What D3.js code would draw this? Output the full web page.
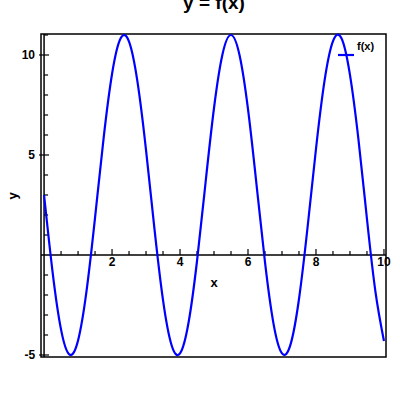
<!DOCTYPE html>
<html lang="en">
<head>
<meta charset="utf-8">
<script src="https://d3js.org/d3.v7.min.js"></script>
<style>
  body { margin: 0; background: #fff; }
  text { font-family: "Liberation Sans", Arial, sans-serif; font-weight: bold; fill: #000; }
</style>
</head>
<body>
<div id="canvas"></div>
<script>
// values
var xValues = [0, 0.25, 0.5, 0.75, 1, 1.25, 1.5, 1.75, 2, 2.25, 2.5, 2.75, 3, 3.25, 3.5, 3.75,
               4, 4.25, 4.5, 4.75, 5, 5.25, 5.5, 5.75, 6, 6.25, 6.5, 6.75, 7, 7.25, 7.5, 7.75,
               8, 8.25, 8.5, 8.75, 9, 9.25, 9.5, 9.75, 10];
var yValues = [3.0, -0.84, -3.73, -4.98, -4.27, -1.79, 1.87, 5.81, 9.05, 10.82, 10.67, 8.64,
               5.24, 1.28, -2.26, -4.50, -4.92, -3.39, -0.30, 3.60, 7.35, 10.04, 11.0, 10.0,
               7.29, 3.53, -0.36, -3.43, -4.92, -4.48, -2.20, 1.35, 5.30, 8.69, 10.69, 10.84,
               9.01, 5.77, 1.80, -1.84, -4.30];
var xMajorTicks = [2, 4, 6, 8, 10];
var yMajorTicks = [-5, 5, 10];
var xDomain = [-0.09, 10.06];
var yDomain = [-5.1, 11.05];
var seriesName = "f(x)";
var title = "y = f(x)";

var points = xValues.map(function(x, i) { return {x: x, y: yValues[i]}; });

var svg = d3.select("#canvas").append("svg")
    .attr("width", 400)
    .attr("height", 400);

var x = d3.scaleLinear().domain(xDomain).range([41, 386]);
var y = d3.scaleLinear().domain(yDomain).range([357, 34]);

// frame
svg.append("rect")
    .attr("x", x.range()[0]).attr("y", y.range()[1])
    .attr("width", x.range()[1] - x.range()[0])
    .attr("height", y.range()[0] - y.range()[1])
    .attr("fill", "none").attr("stroke", "#000").attr("stroke-width", 1.5);

// x axis along y = 0
var xMinor = d3.range(0.5, 10.01, 0.5).filter(function(v) { return xMajorTicks.indexOf(v) < 0; });
var gx = svg.append("g").attr("transform", "translate(0," + y(0) + ")");
gx.append("line").attr("x1", x.range()[0]).attr("x2", x.range()[1])
    .attr("stroke", "#000").attr("stroke-width", 1.5);
gx.selectAll("line.minor").data(xMinor).enter().append("line").attr("class", "minor")
    .attr("x1", function(d) { return x(d); }).attr("x2", function(d) { return x(d); })
    .attr("y1", 0).attr("y2", -4).attr("stroke", "#000").attr("stroke-width", 1.2);
gx.selectAll("line.major").data(xMajorTicks).enter().append("line").attr("class", "major")
    .attr("x1", function(d) { return x(d); }).attr("x2", function(d) { return x(d); })
    .attr("y1", 0).attr("y2", -6).attr("stroke", "#000").attr("stroke-width", 1.2);
gx.selectAll("text").data(xMajorTicks).enter().append("text")
    .attr("x", function(d) { return x(d); }).attr("y", 11)
    .attr("text-anchor", "middle").style("font-size", "12px")
    .text(function(d) { return d; });

// y axis along x = 0
var yMinor = d3.range(-5, 11.01, 1).filter(function(v) { return yMajorTicks.indexOf(v) < 0 && v !== 0; });
var gy = svg.append("g").attr("transform", "translate(" + x(0) + ",0)");
gy.append("line").attr("y1", y.range()[0]).attr("y2", y.range()[1])
    .attr("stroke", "#000").attr("stroke-width", 1.5);
gy.selectAll("line.minor").data(yMinor).enter().append("line").attr("class", "minor")
    .attr("y1", function(d) { return y(d); }).attr("y2", function(d) { return y(d); })
    .attr("x1", 0).attr("x2", 4).attr("stroke", "#000").attr("stroke-width", 1.2);
gy.selectAll("line.major").data(yMajorTicks).enter().append("line").attr("class", "major")
    .attr("y1", function(d) { return y(d); }).attr("y2", function(d) { return y(d); })
    .attr("x1", -5).attr("x2", 5).attr("stroke", "#000").attr("stroke-width", 1.2);
gy.selectAll("text").data(yMajorTicks).enter().append("text")
    .attr("x", -9).attr("y", function(d) { return y(d); })
    .attr("dy", "0.35em").attr("text-anchor", "end").style("font-size", "12px")
    .text(function(d) { return d; });

// curve
var line = d3.line()
    .x(function(d) { return x(d.x); })
    .y(function(d) { return y(d.y); })
    .curve(d3.curveNatural);
svg.append("path").datum(points)
    .attr("d", line)
    .attr("fill", "none").attr("stroke", "#0000ff").attr("stroke-width", 2.2);

// legend
svg.append("line").attr("x1", 338).attr("x2", 354).attr("y1", 55).attr("y2", 55)
    .attr("stroke", "#0000ff").attr("stroke-width", 2.2);
svg.append("text").attr("x", 357).attr("y", 50).style("font-size", "11px").text(seriesName);

// labels
svg.append("text").attr("x", 214).attr("y", 287).attr("text-anchor", "middle")
    .style("font-size", "13px").text("x");
svg.append("text").attr("transform", "translate(17,196) rotate(-90)").attr("text-anchor", "middle")
    .style("font-size", "13px").text("y");
svg.append("text").attr("x", 214).attr("y", 9).attr("text-anchor", "middle")
    .style("font-size", "19px").text(title);
</script>
</body>
</html>
